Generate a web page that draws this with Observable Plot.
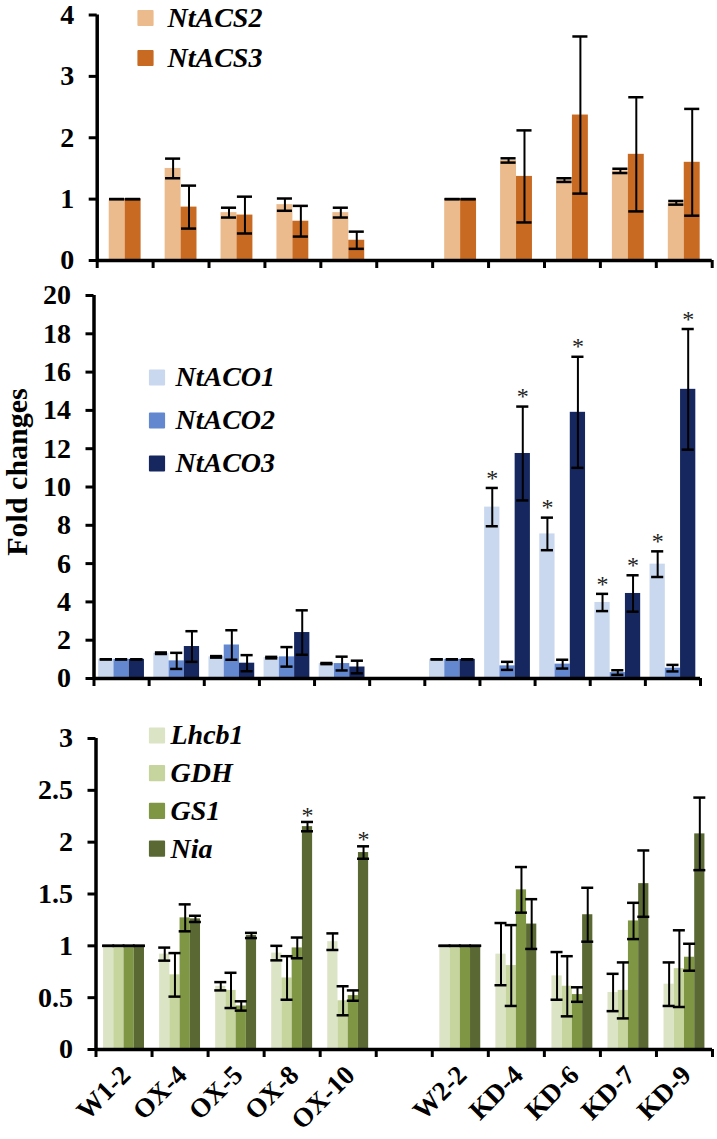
<!DOCTYPE html>
<html><head><meta charset="utf-8">
<script src="https://cdn.jsdelivr.net/npm/d3@7"></script>
<script src="https://cdn.jsdelivr.net/npm/@observablehq/plot@0.6"></script>
<style>
html,body{margin:0;padding:0;background:#fff;}
#chart{position:relative;width:717px;height:1139px;overflow:hidden;}
#chart svg{position:absolute;left:0;overflow:visible;}
</style></head><body><div id="chart"></div>
<script>
// ---- data ----
const groups = ["W1-2","OX-4","OX-5","OX-8","OX-10","W2-2","KD-4","KD-6","KD-7","KD-9"];

const acsGenes = ["NtACS2","NtACS3"];
const acs2    = [1.00,1.50,0.78,0.91,0.78,1.00,1.63,1.31,1.46,0.94];
const acs2Err = [0,0.16,0.08,0.10,0.08,0,0.035,0.03,0.035,0.03];
const acs3    = [1.00,0.87,0.74,0.64,0.33,1.00,1.37,2.37,1.73,1.60];
const acs3Err = [0,0.35,0.30,0.25,0.14,0,0.75,1.28,0.93,0.87];
const acsTicks = [0,1,2,3,4];

const acoGenes = ["NtACO1","NtACO2","NtACO3"];
const aco1    = [1.00,1.32,1.13,1.09,0.78,1.00,8.95,7.55,3.97,5.97];
const aco1Err = [0,0.04,0.04,0.04,0.03,0,1.00,0.85,0.45,0.67];
const aco2    = [1.00,0.92,1.75,1.13,0.78,1.00,0.66,0.75,0.31,0.54];
const aco2Err = [0,0.42,0.77,0.51,0.36,0,0.21,0.23,0.12,0.17];
const aco3    = [1.00,1.67,0.80,2.40,0.60,1.00,11.75,13.90,4.44,15.10];
const aco3Err = [0,0.80,0.42,1.16,0.33,0,2.45,2.90,0.95,3.15];
const acoStars = [["NtACO1","KD-4"],["NtACO3","KD-4"],["NtACO1","KD-6"],["NtACO3","KD-6"],
                  ["NtACO1","KD-7"],["NtACO3","KD-7"],["NtACO1","KD-9"],["NtACO3","KD-9"]];
const acoTicks = [0,2,4,6,8,10,12,14,16,18,20];

const nGenes = ["Lhcb1","GDH","GS1","Nia"];
const lhcb1    = [1,0.92,0.61,0.93,1.04,1,0.92,0.71,0.55,0.63];
const lhcb1Err = [0,0.063,0.04,0.07,0.08,0,0.30,0.23,0.18,0.21];
const gdh      = [1,0.72,0.57,0.69,0.47,1,0.81,0.61,0.57,0.78];
const gdhErr   = [0,0.21,0.17,0.21,0.14,0,0.39,0.29,0.27,0.37];
const gs1      = [1,1.27,0.42,0.98,0.52,1,1.54,0.53,1.24,0.89];
const gs1Err   = [0,0.13,0.045,0.10,0.05,0,0.22,0.07,0.175,0.13];
const nia      = [1,1.26,1.10,2.15,1.90,1,1.21,1.30,1.60,2.08];
const niaErr   = [0,0.03,0.025,0.045,0.06,0,0.24,0.26,0.32,0.35];
const nStars = [["Nia","OX-8"],["Nia","OX-10"]];
const nTicks = [0,0.5,1,1.5,2,2.5,3];

const yTitle = "Fold changes";

// ---- drawing ----
const NSLOTS = 11; // 10 groups + one empty spacer slot
const slotOf = i => (i < 5 ? i : i + 1);
const FONT = "'Liberation Serif','Times New Roman',serif";

function panel(cfg) {
  const {genes, values, errors, colors, stars, top, height, mt, mb, ml, mr, yMax, ticks,
         groupFrac, capHalf, legend, starDy, extra = []} = cfg;
  const n = genes.length, w = groupFrac / n;
  const rows = [];
  genes.forEach((g, j) => groups.forEach((grp, i) => {
    const x1 = slotOf(i) + (1 - groupFrac) / 2 + j * w;
    rows.push({gene: g, group: grp, value: values[j][i], err: errors[j][i], x1, x2: x1 + w, xc: x1 + w / 2});
  }));
  const caps = rows.flatMap(d => [{xc: d.xc, y: d.value + d.err}, {xc: d.xc, y: d.value - d.err}]);
  const starRows = rows.filter(d => stars.some(([g, grp]) => g === d.gene && grp === d.group));
  const legendMarks = genes.map((g, j) => [
    Plot.dot([g], {frameAnchor: "top-left", dx: legend.sx, dy: legend.y0 + j * legend.step,
      symbol: "square", r: 8, fill: colors[j], stroke: colors[j], strokeWidth: 2, strokeLinejoin: "round"}),
    Plot.text([g], {frameAnchor: "top-left", lineAnchor: "middle", text: d => d, dx: legend.tx, dy: legend.y0 + j * legend.step,
      fontSize: 28, fontStyle: "italic", textAnchor: "start"})
  ]);
  const svg = Plot.plot({
    width: 717, height,
    marginTop: mt, marginBottom: mb, marginLeft: ml, marginRight: mr,
    style: {fontFamily: FONT, fontWeight: "bold", color: "#000", background: "transparent", overflow: "visible"},
    x: {domain: [0, NSLOTS], label: null},
    y: {domain: [0, yMax], label: null},
    color: {domain: genes, range: colors},
    marks: [
      Plot.rect(rows, {x1: "x1", x2: "x2", y1: () => 0, y2: "value", fill: "gene"}),
      Plot.ruleX(rows.filter(d => d.err > 0), {x: "xc", y1: d => d.value - d.err, y2: d => d.value + d.err, stroke: "#000", strokeWidth: 2}),
      Plot.ruleY(caps, {y: "y", x1: d => d.xc - capHalf, x2: d => d.xc + capHalf, stroke: "#000", strokeWidth: 2.5}),
      Plot.text(starRows, {x: "xc", y: d => d.value + d.err, text: () => "*", dy: starDy, fontSize: 24, fontWeight: "normal", fill: "#222"}),
      Plot.ruleY([0], {x1: () => 0, x2: () => NSLOTS, stroke: "#000", strokeWidth: 3.5}),
      Plot.ruleX([0], {y1: () => 0, y2: () => yMax, stroke: "#000", strokeWidth: 3.5}),
      Plot.axisY({ticks, tickSize: 8, tickPadding: 15, fontSize: 28, strokeWidth: 3, label: null, tickFormat: d => String(d)}),
      Plot.axisX({ticks: d3.range(NSLOTS + 1), tickSize: 8, strokeWidth: 3, label: null, tickFormat: () => ""}),
      legendMarks,
      ...extra
    ]
  });
  svg.style.top = top + "px";
  document.getElementById("chart").appendChild(svg);
}

// Panel 1: ACS
panel({
  genes: acsGenes, values: [acs2, acs3], errors: [acs2Err, acs3Err],
  colors: ["#EBBB8D", "#C86A22"], stars: [],
  top: 0, height: 275, mt: 14.5, mb: 15, ml: 96.7, mr: 5.3, yMax: 4, ticks: acsTicks,
  groupFrac: 0.57, capHalf: 0.135, starDy: -9,
  legend: {sx: 48.3, tx: 70.3, y0: 3, step: 40}
});

// Panel 2: ACO
panel({
  genes: acoGenes, values: [aco1, aco2, aco3], errors: [aco1Err, aco2Err, aco3Err],
  colors: ["#C9D8EE", "#6388D0", "#16275F"], stars: acoStars,
  top: 275, height: 425, mt: 20, mb: 22, ml: 93.5, mr: 17, yMax: 20, ticks: acoTicks,
  groupFrac: 0.83, capHalf: 0.11, starDy: -10,
  legend: {sx: 63, tx: 81.5, y0: 82, step: 43},
  extra: [Plot.text([yTitle], {frameAnchor: "left", text: d => d, rotate: -90, dx: -77, dy: -15, fontSize: 30, textAnchor: "middle"})]
});

// Panel 3: N metabolism genes
const labelRows = groups.map((g, i) => ({g, xc: slotOf(i) + 0.5}));
panel({
  genes: nGenes, values: [lhcb1, gdh, gs1, nia], errors: [lhcb1Err, gdhErr, gs1Err, niaErr],
  colors: ["#DCE4C6", "#C6D49E", "#7F9645", "#5A6933"], stars: nStars,
  top: 700, height: 439, mt: 38, mb: 90, ml: 95.5, mr: 5, yMax: 3, ticks: nTicks,
  groupFrac: 0.73, capHalf: 0.107, starDy: -7,
  legend: {sx: 61, tx: 74.5, y0: -3, step: 37.7},
  extra: [Plot.text(labelRows, {x: "xc", y: () => 0, text: "g", rotate: -45, textAnchor: "end", dx: 2, dy: 21, fontSize: 27})]
});
</script>
</body></html>
